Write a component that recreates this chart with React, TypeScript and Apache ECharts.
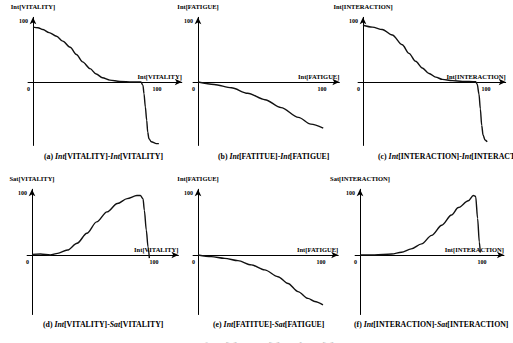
import React, { useEffect, useRef } from "react";
import * as echarts from "echarts";

// ---- data ----
const A_X = [0, 4, 8, 13, 19, 24, 30, 35, 40, 46, 51, 56, 62, 70, 80, 87, 88.7, 89.5, 90.6, 91.7, 92.5, 93.5, 95.4, 99.5, 101.5];
const A_Y = [90, 89, 86, 81, 75, 67, 57, 45, 33, 22, 13, 7, 3, 1, 0, 0, -5.5, -19, -41, -63, -82, -93, -98, -101, -101];

const B_X = [0, 13, 27, 40, 54, 67, 81, 91, 101];
const B_Y = [0, -4, -9.5, -18.5, -29, -42, -58, -69, -75.5];

const C_X = [0, 7.6, 15.7, 23.8, 31.9, 37.4, 42.8, 48.2, 53.7, 59.1, 64.5, 72.6, 80.8, 91.6, 92.9, 94.3, 95.4, 96.5, 97.6, 99.2, 101];
const C_Y = [93, 90, 86, 77, 61, 47, 34, 23, 14, 8, 4.3, 2.2, 1.1, 0.5, -4, -20, -44, -71, -87, -95, -98];

const D_X = [0, 7, 15, 21, 29, 37, 45, 53, 61.5, 70, 78, 86, 88.8, 91, 92.1, 93.7, 95.1, 96.2];
const D_Y = [1, 1.6, 0, 2.7, 8, 19, 35, 53.5, 69.5, 83, 91, 96, 96, 91, 72, 40, 13, -5];

const E_X = [0, 10.8, 21.7, 32.5, 43.4, 54.2, 65, 73.2, 81.3, 89.4, 94.9, 101.6];
const E_Y = [0, -2.7, -5.4, -9.1, -16, -24, -35, -46, -59, -70, -75, -80.5];

const F_X = [0, 12, 26, 34, 42, 50.5, 58.7, 67, 75, 80.6, 88.8, 92.9, 94.8, 96.4, 97.8, 98.6];
const F_Y = [0, 0, 1.6, 4.4, 9.8, 18, 31.7, 48, 64.5, 76.5, 87.4, 96, 94.5, 59, 21, 4];

const Y_NAMES = ["Int[VITALITY]", "Int[FATIGUE]", "Int[INTERACTION]", "Sat[VITALITY]", "Int[FATIGUE]", "Sat[INTERACTION]"];
const X_NAMES = ["Int[VITALITY]", "Int[FATIGUE]", "Int[INTERACTION]", "Int[VITALITY]", "Int[FATIGUE]", "Int[INTERACTION]"];
const CAPTIONS = [
  "(a) {i|Int}[VITALITY]-{i|Int}[VITALITY]",
  "(b) {i|Int}[FATITUE]-{i|Int}[FATIGUE]",
  "(c) {i|Int}[INTERACTION]-{i|Int}[INTERACTION]",
  "(d) {i|Int}[VITALITY]-{i|Sat}[VITALITY]",
  "(e) {i|Int}[FATITUE]-{i|Sat}[FATIGUE]",
  "(f) {i|Int}[INTERACTION]-{i|Sat}[INTERACTION]",
];
const X_TICK_LABELS = [0, 100];
const Y_TICK_LABELS = [100];
const FIG_CAPTION = "Fig. 5.8  Mapping of Int[ ] to Int[ ] and Sat[ ]";

const SERIES_X = [A_X, B_X, C_X, D_X, E_X, F_X];
const SERIES_Y = [A_Y, B_Y, C_Y, D_Y, E_Y, F_Y];

// ---- layout (pixels) ----
const LAYOUT = [
  { x0: 33, sx: 1.24, xMax: 120, y0: 82, sy: 0.61, yMin: -104, capL: 44, capT: 152 },
  { x0: 198, sx: 1.24, xMax: 114, y0: 82, sy: 0.61, yMin: -104, capL: 218, capT: 152 },
  { x0: 363, sx: 1.23, xMax: 116, y0: 82, sy: 0.61, yMin: -104, capL: 378, capT: 152 },
  { x0: 32, sx: 1.22, xMax: 120, y0: 255, sy: 0.62, yMin: -96, capL: 43, capT: 320 },
  { x0: 198, sx: 1.23, xMax: 114, y0: 255, sy: 0.62, yMin: -96, capL: 213, capT: 320 },
  { x0: 360, sx: 1.22, xMax: 118, y0: 255, sy: 0.62, yMin: -96, capL: 354, capT: 320 },
];
const X_MIN = -4;
const Y_MAX = 106;
const FONT = "Liberation Serif";

export default function App() {
  const ref = useRef<HTMLDivElement>(null);
  useEffect(() => {
    if (!ref.current) return;
    const chart = echarts.init(ref.current, undefined, { renderer: "svg" });
    const grids: any[] = [];
    const xAxes: any[] = [];
    const yAxes: any[] = [];
    const series: any[] = [];
    const titles: any[] = [];
    LAYOUT.forEach((p, i) => {
      grids.push({
        left: p.x0 + X_MIN * p.sx,
        width: (p.xMax - X_MIN) * p.sx,
        top: p.y0 - Y_MAX * p.sy,
        height: (Y_MAX - p.yMin) * p.sy,
        containLabel: false,
      });
      xAxes.push({
        type: "value",
        gridIndex: i,
        position: "bottom",
        offset: p.yMin * p.sy,
        min: X_MIN,
        max: p.xMax,
        interval: 2,
        splitLine: { show: false },
        axisTick: { show: false },
        axisLine: {
          onZero: false,
          symbol: ["none", "arrow"],
          symbolSize: [5, 7],
          lineStyle: { color: "#000", width: 1 },
        },
        axisLabel: {
          margin: 4,
          fontSize: 6,
          fontFamily: FONT,
          fontWeight: "bold",
          color: "#000",
          formatter: (v: number) =>
            X_TICK_LABELS.includes(v) ? (v === 0 ? "{z|" + v + "}" : String(v)) : "",
          rich: {
            z: { padding: [0, 9, 0, 0], fontSize: 6, fontFamily: FONT, fontWeight: "bold", color: "#000" },
          },
        },
        name: X_NAMES[i],
        nameLocation: "end",
        nameGap: 0,
        nameTextStyle: {
          align: "right",
          verticalAlign: "bottom",
          padding: [0, 0, 2, 0],
          fontSize: 6.5,
          fontFamily: FONT,
          fontWeight: "bold",
          color: "#000",
        },
      });
      yAxes.push({
        type: "value",
        gridIndex: i,
        position: "left",
        offset: X_MIN * p.sx,
        min: p.yMin,
        max: Y_MAX,
        interval: 2,
        splitLine: { show: false },
        axisTick: { show: false },
        axisLine: {
          onZero: false,
          symbol: ["none", "arrow"],
          symbolSize: [5, 7],
          lineStyle: { color: "#000", width: 1 },
        },
        axisLabel: {
          margin: 5,
          fontSize: 6,
          fontFamily: FONT,
          fontWeight: "bold",
          color: "#000",
          formatter: (v: number) => (Y_TICK_LABELS.includes(v) ? String(v) : ""),
        },
        name: Y_NAMES[i],
        nameLocation: "end",
        nameGap: 7,
        nameTextStyle: {
          fontSize: 6.5,
          fontFamily: FONT,
          fontWeight: "bold",
          color: "#000",
        },
      });
      series.push({
        type: "line",
        xAxisIndex: i,
        yAxisIndex: i,
        data: SERIES_X[i].map((x, k) => [x, SERIES_Y[i][k]]),
        showSymbol: false,
        smooth: 0.3,
        smoothMonotone: "x",
        lineStyle: { color: "#111", width: 1.4 },
      });
      titles.push({
        text: CAPTIONS[i],
        left: p.capL,
        top: p.capT,
        padding: 0,
        textStyle: {
          fontSize: 7.8,
          fontFamily: FONT,
          fontWeight: "bold",
          color: "#000",
          rich: {
            i: { fontSize: 7.8, fontFamily: FONT, fontWeight: "bold", fontStyle: "italic", color: "#000" },
          },
        },
      });
    });
    chart.setOption({
      animation: false,
      backgroundColor: "#fff",
      title: titles,
      grid: grids,
      xAxis: xAxes,
      yAxis: yAxes,
      series,
      graphic: [
        {
          type: "text",
          left: 100,
          top: 340,
          style: { text: FIG_CAPTION, font: "13px 'Liberation Serif'", fill: "#c8c8c8" },
        },
      ],
    });
    return () => chart.dispose();
  }, []);
  return (
    <div
      ref={ref}
      style={{ position: "absolute", left: 0, top: 0, width: 513, height: 343 }}
    />
  );
}
